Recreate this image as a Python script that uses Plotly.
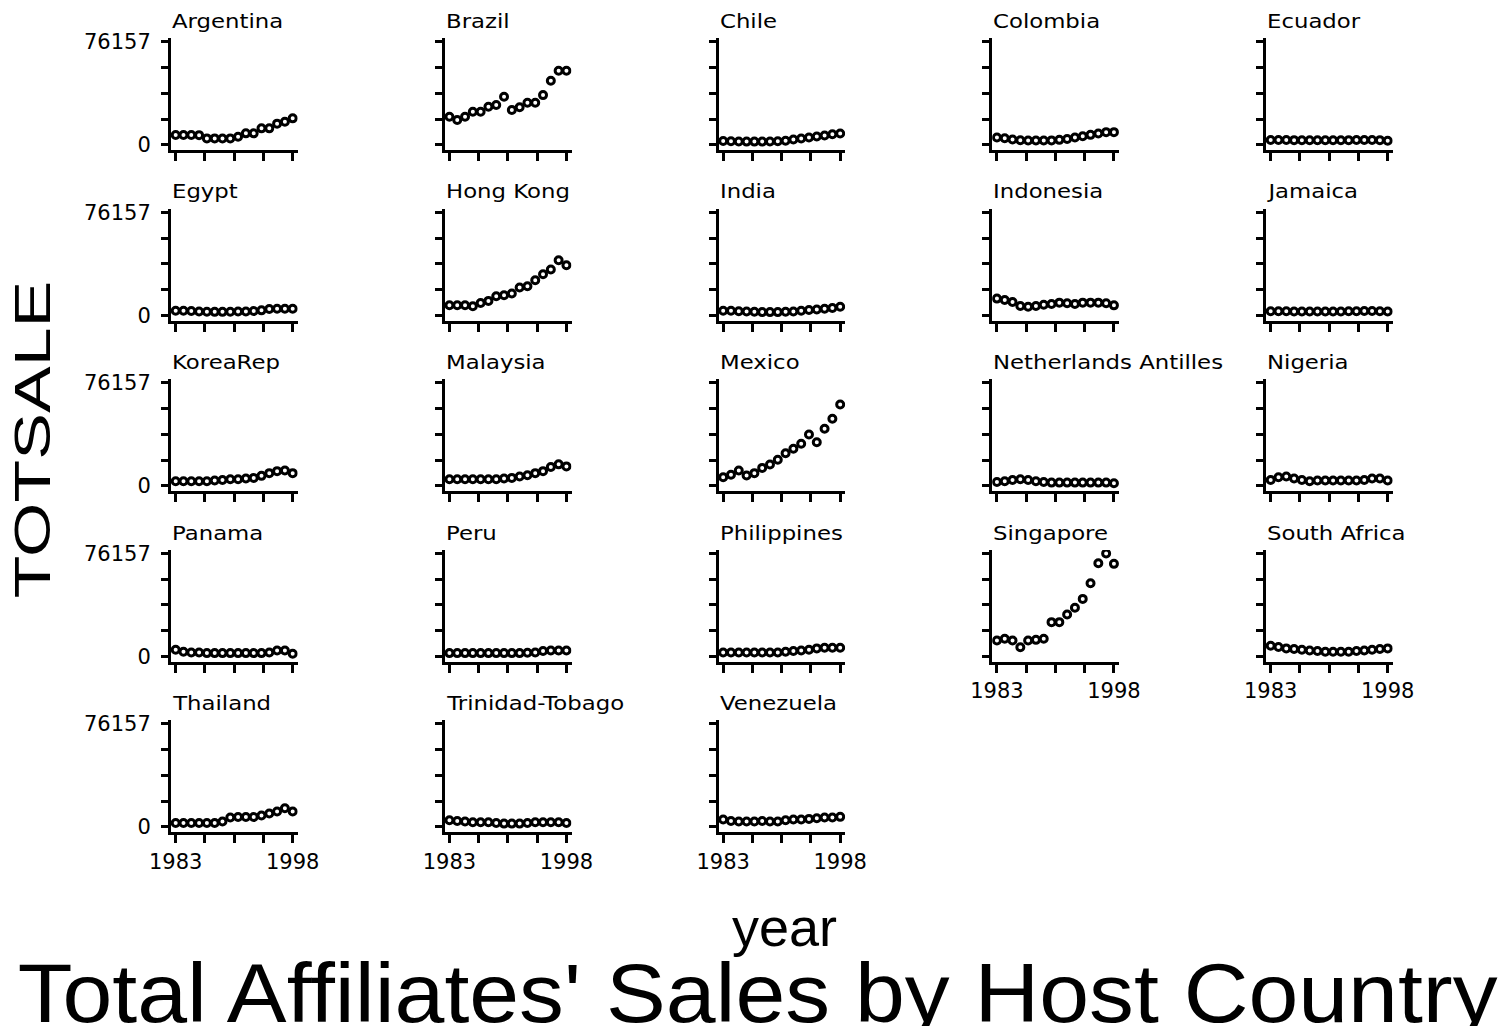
import json
import plotly.graph_objects as go

# Survey years and host countries, in panel order (5 panels per row)
years = list(range(1983, 1999))

countries = [
    "Argentina", "Brazil", "Chile", "Colombia", "Ecuador",
    "Egypt", "Hong Kong", "India", "Indonesia", "Jamaica",
    "KoreaRep", "Malaysia", "Mexico", "Netherlands Antilles", "Nigeria",
    "Panama", "Peru", "Philippines", "Singapore", "South Africa",
    "Thailand", "Trinidad-Tobago", "Venezuela",
]

# Total affiliates' sales (TOTSALE) per country, 1983-1998
argentina = [7400, 7400, 7400, 7300, 4900, 4900, 4800, 4900, 6100, 8600, 8600, 12300, 12300, 15800, 17200, 19700]
brazil = [20900, 18500, 20900, 24600, 24600, 28300, 29600, 35700, 25900, 27900, 31300, 31300, 36900, 47500, 54900, 54900]
chile = [3000, 2800, 2600, 2500, 2500, 2500, 2600, 2800, 3200, 4000, 4800, 5500, 6300, 7000, 8000, 8500]
colombia = [5500, 5000, 4000, 3500, 3300, 3300, 3300, 3400, 3800, 4500, 5500, 6500, 7500, 8500, 9500, 9500]
ecuador = [3700, 3700, 3700, 3600, 3500, 3500, 3500, 3500, 3500, 3500, 3600, 3700, 3700, 3700, 3600, 3200]
egypt = [3500, 3500, 3300, 3000, 2800, 2700, 2700, 2800, 3000, 3000, 3300, 3800, 4800, 5000, 5000, 5000]
hong_kong = [7600, 7600, 7600, 6800, 9300, 10800, 14200, 15000, 16200, 20700, 21600, 26000, 30500, 34000, 40800, 37100]
india = [3500, 3500, 3200, 3000, 2800, 2500, 2500, 2500, 2800, 3000, 3500, 4000, 4500, 5000, 5500, 6500]
indonesia = [12500, 11500, 10000, 7000, 6500, 7000, 8000, 8500, 9500, 9000, 8500, 9500, 9500, 9500, 9000, 7500]
jamaica = [3200, 3200, 3100, 3000, 3000, 3000, 3000, 3000, 3000, 3000, 3100, 3200, 3300, 3300, 3200, 3000]
korea_rep = [3500, 3500, 3500, 3500, 3500, 4000, 4500, 5000, 5000, 5500, 6000, 7500, 9500, 11000, 11500, 9500]
malaysia = [5000, 5000, 5000, 5000, 5000, 5000, 5000, 5500, 6000, 7000, 8000, 9500, 11000, 14000, 16000, 14500]
mexico = [6500, 8300, 11500, 7800, 9500, 13400, 15900, 19400, 24200, 27500, 31200, 38100, 32400, 42300, 49700, 60200]
neth_antilles = [3000, 3500, 4500, 5000, 4500, 3500, 3000, 2500, 2500, 2500, 2500, 2500, 2500, 2500, 2500, 2000]
nigeria = [4500, 6500, 7000, 5500, 4500, 3500, 4000, 4000, 4000, 4000, 4000, 4000, 4500, 5500, 5500, 4000]
panama = [5000, 3500, 3000, 3000, 2500, 2500, 2500, 2500, 2500, 2500, 2500, 2500, 3000, 4500, 4500, 2000]
peru = [2500, 2500, 2500, 2500, 2500, 2500, 2500, 2500, 2500, 2500, 2800, 3000, 4000, 4500, 4500, 4500]
philippines = [3000, 3000, 3000, 3000, 3000, 3000, 3000, 3000, 3500, 4000, 4500, 5000, 6000, 6500, 6500, 6500]
singapore = [11800, 13100, 11800, 6900, 11800, 12300, 13100, 25400, 25400, 31000, 36000, 42600, 54200, 69000, 76157, 68500]
south_africa = [8000, 7000, 6000, 5500, 5000, 4500, 4000, 3500, 3500, 3500, 3500, 4000, 4500, 5000, 5500, 6000]
thailand = [3000, 3000, 3000, 3000, 3000, 3000, 4000, 7000, 7400, 7400, 7400, 8500, 10000, 11500, 13800, 11500]
trinidad_tobago = [5000, 4500, 4000, 3500, 3500, 3500, 3000, 2500, 2500, 2500, 3000, 3500, 3500, 3500, 3500, 3000]
venezuela = [5500, 4500, 4000, 4000, 4000, 4500, 4000, 4000, 5000, 5500, 5500, 6000, 6500, 7000, 7000, 7500]

sales = [
    argentina, brazil, chile, colombia, ecuador,
    egypt, hong_kong, india, indonesia, jamaica,
    korea_rep, malaysia, mexico, neth_antilles, nigeria,
    panama, peru, philippines, singapore, south_africa,
    thailand, trinidad_tobago, venezuela,
]

# Shared axis labelling: only the minimum and maximum are printed
y_min, y_max = 0, 76157
y_ticks = [y_min + k * (y_max - y_min) / 4 for k in range(5)]
y_text = [str(y_min), "", "", "", str(y_max)]
x_ticks = [years[0] + k * (years[-1] - years[0]) / 4 for k in range(5)]
x_text = [str(years[0]), "", "", "", str(years[-1])]

W, H = 1509, 1026
NCOL = 5
COL_X0 = 171.0      # left edge of first panel (px)
COL_STEP = 273.75   # horizontal panel pitch (px)
ROW_Z0 = 145.0      # y pixel of zero in first row
ROW_STEP = 170.5    # vertical panel pitch (px)
PX_PER_YEAR = 7.8
PX_PER_UNIT = 103.0 / 76157.0
X_RANGE = [1982.4, 1998.65]
Y_RANGE = [-4000, 78800]

small_font = dict(family="DejaVu Sans", size=21, color="black")
title_font = dict(family="DejaVu Sans", size=19, color="black")

fig = go.Figure()
layout = dict(
    width=W, height=H,
    margin=dict(l=0, r=0, t=0, b=0, autoexpand=False),
    paper_bgcolor="white", plot_bgcolor="white",
    showlegend=False,
)
annotations = []
# horizontal stretch applied to each annotation's text (wide screen-font look)
stretch = []

n = len(countries)
for i, (name, vals) in enumerate(zip(countries, sales)):
    r, c = divmod(i, NCOL)
    k = i + 1
    xa = "x" if k == 1 else f"x{k}"
    ya = "y" if k == 1 else f"y{k}"

    left = COL_X0 + COL_STEP * c
    right = left + (X_RANGE[1] - X_RANGE[0]) * PX_PER_YEAR
    zero = ROW_Z0 + ROW_STEP * r
    bottom = zero - Y_RANGE[0] * PX_PER_UNIT
    top = zero - Y_RANGE[1] * PX_PER_UNIT

    # bottom panel of each column carries the year labels
    last_in_col = (i + NCOL) >= n

    fig.add_trace(go.Scatter(
        x=years, y=vals, mode="markers", xaxis=xa, yaxis=ya,
        marker=dict(symbol="circle-open", size=7, color="black",
                    line=dict(width=3, color="black")),
        hoverinfo="x+y", name=name,
    ))

    layout["xaxis" if k == 1 else f"xaxis{k}"] = dict(
        domain=[left / W, right / W], range=X_RANGE, anchor=ya,
        automargin=False,
        showgrid=False, zeroline=False, showline=True,
        linecolor="black", linewidth=3,
        ticks="outside", ticklen=8, tickwidth=3, tickcolor="black",
        tickmode="array", tickvals=x_ticks, ticktext=x_text,
        showticklabels=last_in_col, tickfont=small_font,
    )
    layout["yaxis" if k == 1 else f"yaxis{k}"] = dict(
        domain=[1 - bottom / H, 1 - top / H], range=Y_RANGE, anchor=xa,
        automargin=False,
        showgrid=False, zeroline=False, showline=True,
        linecolor="black", linewidth=3,
        ticks="outside", ticklen=7, tickwidth=3, tickcolor="black",
        tickmode="array", tickvals=y_ticks, ticktext=y_text,
        showticklabels=(c == 0), tickfont=small_font, ticklabelstandoff=6,
    )

    annotations.append(dict(
        text=name, xref="paper", yref="paper",
        x=(left - 1) / W, y=1 - (21 + ROW_STEP * r) / H,
        xanchor="left", yanchor="middle", showarrow=False,
        font=title_font,
    ))
    stretch.append([1.2, "left center"])

annotations.append(dict(
    text="TOTSALE", xref="paper", yref="paper",
    x=33 / W, y=1 - 440 / H, textangle=-90,
    xanchor="center", yanchor="middle", showarrow=False,
    font=dict(family="Liberation Sans", size=50, color="black"),
))
stretch.append([1.4, "center"])
annotations.append(dict(
    text="year", xref="paper", yref="paper",
    x=784 / W, y=1 - 927 / H,
    xanchor="center", yanchor="middle", showarrow=False,
    font=dict(family="Liberation Sans", size=54, color="black"),
))
stretch.append([1.0, "center"])
annotations.append(dict(
    text="Total Affiliates' Sales by Host Country", xref="paper", yref="paper",
    x=757 / W, y=1 - 993 / H,
    xanchor="center", yanchor="middle", showarrow=False,
    font=dict(family="Liberation Sans", size=84, color="black"),
))
stretch.append([1.067, "center"])

layout["annotations"] = annotations
fig.update_layout(**layout)

# widen annotation glyphs horizontally along the text direction
post_js = """
var gd = document.getElementById('{plot_id}');
var STRETCH = %s;
function widen() {
  gd.querySelectorAll('g.annotation').forEach(function (g) {
    var idx = parseInt(g.getAttribute('data-index'), 10);
    var s = STRETCH[idx];
    var t = g.querySelector('text.annotation-text');
    if (!s || !t || s[0] === 1) return;
    t.style.transformBox = 'fill-box';
    t.style.transformOrigin = s[1];
    t.style.transform = 'scaleX(' + s[0] + ')';
  });
}
widen();
gd.on('plotly_afterplot', widen);
""" % json.dumps(stretch)

fig.write_html("out.html", post_script=post_js)
